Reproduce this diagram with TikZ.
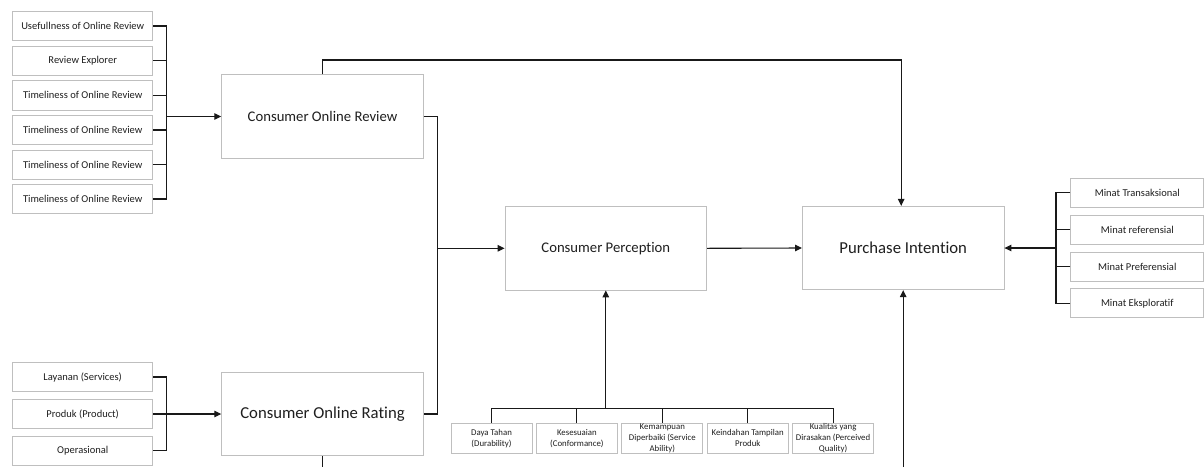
\documentclass[tikz,border=0pt]{standalone}
\usepackage{fontspec}
\setmainfont{Carlito}[Ligatures=NoCommon]
\usetikzlibrary{arrows.meta}
\begin{document}
\begin{tikzpicture}[x=1pt,y=-1pt,
  box/.style={draw=black!25, line width=0.9pt, fill=white, inner sep=0pt, text=black!88, align=center},
  smallbox/.style={box, minimum width=140pt, minimum height=29.4pt, font=\fontsize{10.5}{12.6}\selectfont},
  rbox/.style={box, minimum width=133pt, minimum height=29pt, font=\fontsize{10.5}{12.6}\selectfont},
  bbox/.style={box, minimum width=81pt, minimum height=30pt},
  btext/.style={align=center, text=black!88, font=\fontsize{8.8}{11.2}\selectfont, inner sep=0pt},
  midbox/.style={box, minimum width=201.5pt, minimum height=83.3pt, font=\fontsize{14.7}{17}\selectfont},
  bigbox/.style={box, minimum width=201.5pt, minimum height=83.3pt, font=\fontsize{16.7}{19}\selectfont},
  conn/.style={draw=black!90, line width=1.1pt},
  arr/.style={conn, -{Triangle[length=7pt,width=6.5pt]}}
]
\useasboundingbox (0,0) rectangle (1204,467);
% left top boxes
\node[smallbox] (u1) at (82.7,26) {Usefullness of Online Review};
\node[smallbox] (u2) at (82.7,60.7) {Review Explorer};
\node[smallbox] (u3) at (82.7,95.3) {Timeliness of Online Review};
\node[smallbox] (u4) at (82.7,130) {Timeliness of Online Review};
\node[smallbox] (u5) at (82.7,164.7) {Timeliness of Online Review};
\node[smallbox] (u6) at (82.7,199) {Timeliness of Online Review};
% left bottom boxes
\node[smallbox] (l1) at (82.7,377) {Layanan (Services)};
\node[smallbox] (l2) at (82.7,414) {Produk (Product)};
\node[smallbox] (l3) at (82.7,450.7) {Operasional};
% main boxes
\node[midbox] (cor) at (322.5,116.5) {Consumer Online Review};
\node[bigbox] (rat) at (322.5,414) {Consumer Online Rating};
\node[midbox] (cp) at (605.8,248.3) {Consumer Perception};
\node[bigbox] (pi) at (903.2,248) {Purchase Intention};
% right boxes
\node[rbox] (r1) at (1137.3,192.8) {Minat Transaksional};
\node[rbox] (r2) at (1137.3,229.8) {Minat referensial};
\node[rbox] (r3) at (1137.3,266.7) {Minat Preferensial};
\node[rbox] (r4) at (1137.3,303.3) {Minat Eksploratif};
% bottom boxes
\node[bbox, label={[btext]center:{Daya Tahan\\(Durability)}}] (b1) at (491.5,438.3) {};
\node[bbox, label={[btext]center:{Kesesuaian\\(Conformance)}}] (b2) at (576.9,438.3) {};
\node[bbox, label={[btext]center:{Kemampuan\\Diperbaiki (Service\\Ability)}}] (b3) at (662.3,438.3) {};
\node[bbox, label={[btext]center:{Keindahan Tampilan\\Produk}}] (b4) at (747.7,438.3) {};
\node[bbox, label={[btext]center:{Kualitas yang\\Dirasakan (Perceived\\Quality)}}] (b5) at (833.1,438.3) {};
% coordinates
\coordinate (lb) at (166.7,116.5);
\coordinate (lb2) at (166.7,414);
\coordinate (topy) at (0,60);
\coordinate (bm) at (437.3,248.3);
\coordinate (rb) at (1056,248);
\coordinate (bb) at (605.8,408.3);
\coordinate (ratend) at (322.5,467);
\coordinate (pistart) at (903.2,467);
% left top bus
\foreach \i in {1,...,6} { \draw[conn] (u\i.east) -| (lb); }
\draw[arr] (lb) -- (cor.west);
% left bottom bus
\draw[conn] (l1.east) -| (lb2);
\draw[conn] (l3.east) -| (lb2);
\draw[arr] (l2.east) -- (rat.west);
% COR top to PI
\draw[arr] (cor.north) -- (cor.north |- topy) -| ([xshift=-2pt]pi.north);
% COR / rating to CP
\draw[conn] (cor.east) -| (bm) |- (rat.east);
\draw[arr] (bm) -- (cp.west);
% CP to PI
\draw[arr] (cp.east) -- (pi.west);
% right bus
\foreach \i in {1,...,4} { \draw[conn] (r\i.west) -| (rb); }
\draw[arr] (rb) -- (pi.east);
% bottom bus
\foreach \i in {1,...,5} { \draw[conn] (b\i.north) |- (bb); }
\draw[arr] (bb) -- (cp.south);
% bottom lines
\draw[conn] (rat.south) -- (ratend);
\draw[arr] (pistart) -- (pi.south);
\end{tikzpicture}
\end{document}
